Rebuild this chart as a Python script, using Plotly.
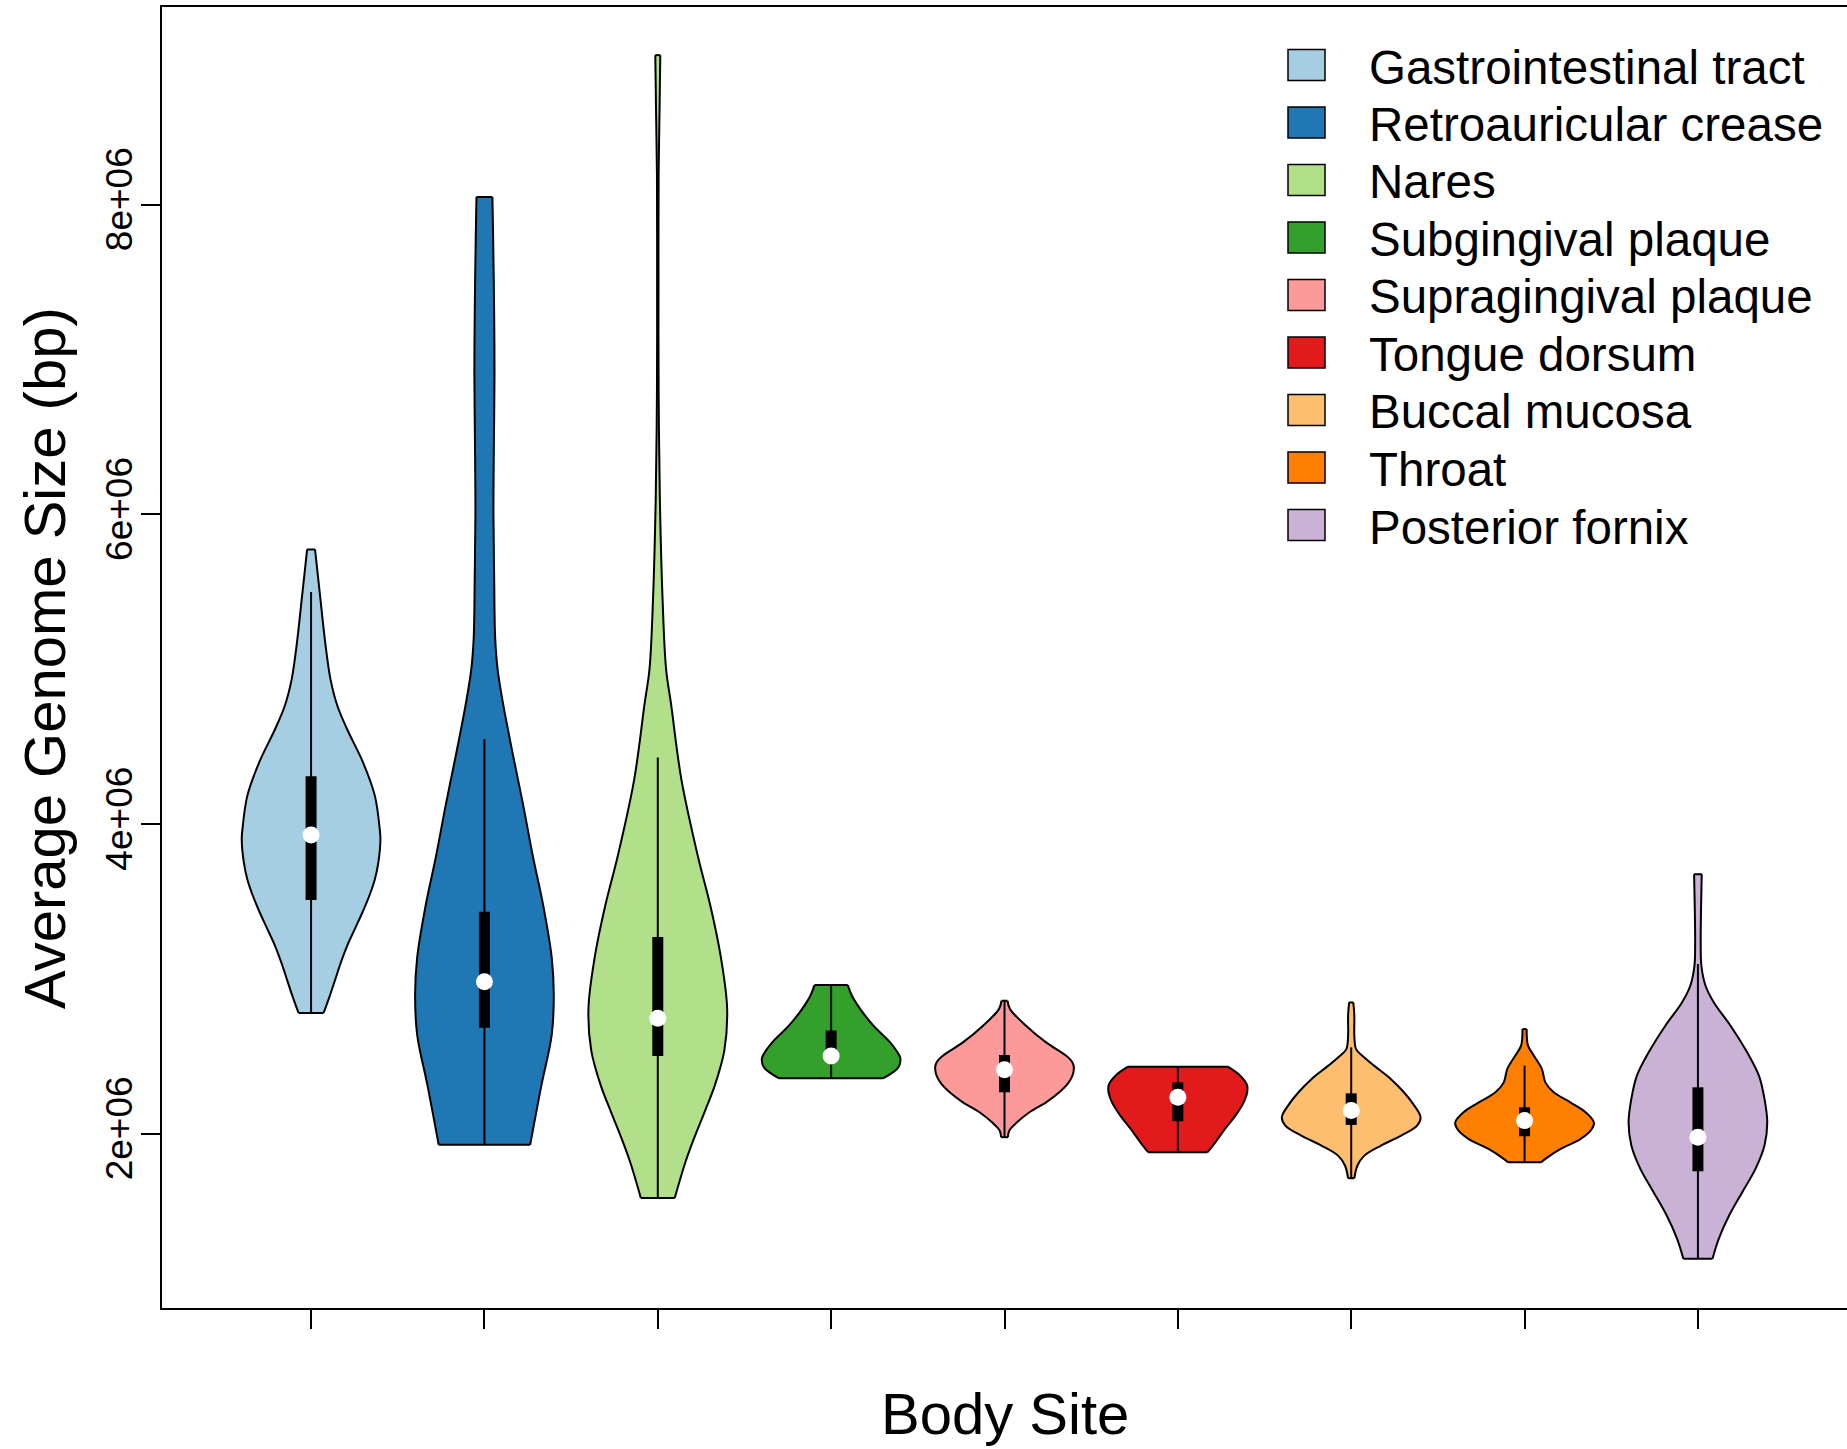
import plotly.graph_objects as go

# ---------------- data (genome size in Mbp) ----------------
sites = ["Gastrointestinal tract", "Retroauricular crease", "Nares", "Subgingival plaque",
         "Supragingival plaque", "Tongue dorsum", "Buccal mucosa", "Throat", "Posterior fornix"]
colors = ["#A6CEE3", "#1F78B4", "#B2DF8A", "#33A02C", "#FB9A99",
          "#E31A1C", "#FDBF6F", "#FF7F00", "#CAB2D6"]

# density outline of each violin: levels (Mbp) and relative half-width (1 = widest)
gastro_y = [2.781, 2.892, 3.0, 3.108, 3.215, 3.323, 3.43, 3.538, 3.645, 3.753, 3.903, 3.968,
            4.183, 4.398, 4.613, 4.763, 4.935, 5.150, 5.473, 5.774]
gastro_w = [0.18, 0.27, 0.35, 0.43, 0.52, 0.63, 0.74, 0.84, 0.92, 0.97, 1.0, 0.99,
            0.92, 0.75, 0.52, 0.38, 0.28, 0.21, 0.13, 0.057]

retro_y = [1.93, 2.31, 2.64, 2.90, 3.14, 3.47, 3.79, 4.12, 4.45, 4.80, 5.0, 5.2,
           5.6, 6.0, 6.4, 6.9, 7.3, 7.8, 8.05]
retro_w = [0.66, 0.82, 0.97, 1.0, 0.97, 0.85, 0.70, 0.56, 0.41, 0.26, 0.19, 0.155,
           0.14, 0.13, 0.135, 0.145, 0.14, 0.125, 0.115]

nares_y = [1.587, 1.82, 1.98, 2.148, 2.31, 2.54, 2.81, 3.14, 3.47, 3.79, 4.29, 4.78,
           5.0, 5.44, 6.1, 6.8, 7.5, 8.2, 8.6, 8.966]
nares_w = [0.245, 0.40, 0.53, 0.68, 0.82, 0.96, 1.0, 0.91, 0.76, 0.58, 0.34, 0.19,
           0.12, 0.07, 0.03, 0.012, 0.01, 0.012, 0.025, 0.036]

subg_y = [2.359, 2.430, 2.484, 2.505, 2.591, 2.699, 2.806, 2.892, 2.961]
subg_w = [0.75, 0.97, 1.0, 0.985, 0.85, 0.61, 0.42, 0.30, 0.24]

supra_y = [1.979, 2.022, 2.075, 2.140, 2.204, 2.269, 2.323, 2.376, 2.430, 2.462,
           2.505, 2.591, 2.699, 2.806, 2.860]
supra_w = [0.05, 0.07, 0.18, 0.36, 0.60, 0.79, 0.91, 0.98, 1.0, 0.98,
           0.89, 0.60, 0.31, 0.08, 0.043]

tongue_y = [1.882, 1.946, 2.032, 2.118, 2.204, 2.269, 2.312, 2.376, 2.434]
tongue_w = [0.43, 0.54, 0.68, 0.83, 0.95, 1.0, 1.0, 0.90, 0.72]

buccal_y = [1.714, 1.796, 1.860, 1.925, 1.989, 2.054, 2.108, 2.183, 2.269, 2.355,
            2.441, 2.505, 2.548, 2.634, 2.763, 2.849]
buccal_w = [0.045, 0.09, 0.19, 0.43, 0.72, 0.95, 1.0, 0.91, 0.76, 0.57,
            0.33, 0.16, 0.07, 0.045, 0.045, 0.03]

throat_y = [1.817, 1.839, 1.903, 1.968, 2.032, 2.075, 2.140, 2.204, 2.269, 2.333,
            2.419, 2.505, 2.570, 2.677]
throat_w = [0.24, 0.30, 0.52, 0.81, 0.97, 1.0, 0.88, 0.66, 0.42, 0.30,
            0.25, 0.135, 0.05, 0.03]

fornix_y = [1.194, 1.323, 1.473, 1.624, 1.774, 1.925, 2.075, 2.226, 2.376, 2.527,
            2.699, 2.849, 2.957, 3.086, 3.237, 3.452, 3.677]
fornix_w = [0.21, 0.30, 0.45, 0.64, 0.83, 0.96, 1.0, 0.96, 0.88, 0.71,
            0.47, 0.23, 0.11, 0.05, 0.04, 0.045, 0.055]

# box-plot statistics (Mbp)
whisker_lo = [2.781, 1.93, 1.587, 2.359, 1.979, 1.882, 1.714, 1.817, 1.194]
q1 = [3.51, 2.686, 2.503, 2.47, 2.269, 2.082, 2.058, 1.985, 1.759]
median = [3.93, 2.983, 2.747, 2.503, 2.415, 2.237, 2.151, 2.086, 1.978]
q3 = [4.31, 3.435, 3.272, 2.668, 2.510, 2.333, 2.262, 2.172, 2.301]
whisker_hi = [5.50, 4.55, 4.43, 2.961, 2.860, 2.434, 2.559, 2.441, 3.097]

ytick_vals = [2e6, 4e6, 6e6, 8e6]
ytick_text = ["2e+06", "4e+06", "6e+06", "8e+06"]

profiles_y = [gastro_y, retro_y, nares_y, subg_y, supra_y, tongue_y, buccal_y, throat_y, fornix_y]
profiles_w = [gastro_w, retro_w, nares_w, subg_w, supra_w, tongue_w, buccal_w, throat_w, fornix_w]

# ---------------- figure ----------------
W, H = 1847, 1449
ML, MR, MT, MB = 162, 0, 7, 141
PW, PH = W - ML - MR, H - MT - MB
FONT = "Liberation Sans, Arial, sans-serif"
HALF = 0.4
M = 1e6

fig = go.Figure()
for i, site in enumerate(sites):
    pos = i + 1
    ys = [v * M for v in profiles_y[i]]
    ws = profiles_w[i]
    # left outline
    fig.add_trace(go.Scatter(x=[pos - HALF * w for w in ws], y=ys, mode="lines",
                             line=dict(color="black", width=2, shape="spline", smoothing=1),
                             showlegend=False, hoverinfo="skip"))
    # right outline, filled to left outline
    fig.add_trace(go.Scatter(x=[pos + HALF * w for w in ws], y=ys, mode="lines",
                             line=dict(color="black", width=2, shape="spline", smoothing=1),
                             fill="tonextx", fillcolor=colors[i],
                             showlegend=False, hoverinfo="skip"))
    # flat ends
    fig.add_trace(go.Scatter(
        x=[pos - HALF * ws[0], pos + HALF * ws[0], None, pos - HALF * ws[-1], pos + HALF * ws[-1]],
        y=[ys[0], ys[0], None, ys[-1], ys[-1]], mode="lines",
        line=dict(color="black", width=2), showlegend=False, hoverinfo="skip"))
    # whisker
    fig.add_trace(go.Scatter(x=[pos, pos], y=[whisker_lo[i] * M, whisker_hi[i] * M], mode="lines",
                             line=dict(color="black", width=2), showlegend=False, hoverinfo="skip"))
    # box
    fig.add_trace(go.Scatter(x=[pos, pos], y=[q1[i] * M, q3[i] * M], mode="lines",
                             line=dict(color="black", width=11), showlegend=False, hoverinfo="skip"))
    # median
    fig.add_trace(go.Scatter(x=[pos], y=[median[i] * M], mode="markers",
                             marker=dict(color="white", size=17, line=dict(width=0)),
                             showlegend=False, hoverinfo="skip"))


def px_x(p):
    return (p - ML) / PW


def px_y(p):
    return (H - MB - p) / PH


shapes = []
annotations = []
# legend (drawn manually: square swatches like base R legend)
for k, site in enumerate(sites):
    cy = 65 + 57.5 * k
    shapes.append(dict(type="rect", xref="paper", yref="paper",
                       x0=px_x(1288), x1=px_x(1325), y0=px_y(cy + 15.5), y1=px_y(cy - 15.5),
                       fillcolor=colors[k], line=dict(color="black", width=1.5)))
    annotations.append(dict(text=site, xref="paper", yref="paper", x=px_x(1367), y=px_y(cy + 2),
                            xanchor="left", yanchor="middle", showarrow=False,
                            font=dict(family=FONT, size=47.5, color="black")))

# axis titles
annotations.append(dict(text="Body Site", xref="paper", yref="paper", x=px_x(1005), y=px_y(1413),
                        xanchor="center", yanchor="middle", showarrow=False,
                        font=dict(family=FONT, size=58, color="black")))
annotations.append(dict(text="Average Genome Size (bp)", xref="paper", yref="paper",
                        x=px_x(44), y=px_y(658), xanchor="center", yanchor="middle",
                        textangle=-90, showarrow=False,
                        font=dict(family=FONT, size=58, color="black")))

fig.update_layout(
    width=W, height=H,
    margin=dict(l=ML, r=MR, t=MT, b=MB, pad=0),
    paper_bgcolor="white", plot_bgcolor="white",
    font=dict(family=FONT, color="black"),
    showlegend=False,
    shapes=shapes, annotations=annotations,
    xaxis=dict(range=[0.14, 9.86], tickvals=list(range(1, 10)), ticktext=[""] * 9,
               ticks="outside", ticklen=19, tickwidth=2, tickcolor="black",
               showline=True, linecolor="black", linewidth=2, mirror=True,
               showgrid=False, zeroline=False),
    yaxis=dict(range=[0.876e6, 9.277e6], tickvals=ytick_vals, ticktext=ytick_text,
               tickangle=-90, tickfont=dict(family=FONT, size=37, color="black"),
               ticklabelstandoff=-6,
               ticks="outside", ticklen=19, tickwidth=2, tickcolor="black",
               showline=True, linecolor="black", linewidth=2,
               showgrid=False, zeroline=False),
)

fig.write_html("out.html", config={"displayModeBar": False},
               post_script="document.body.style.margin='0';document.body.style.overflow='hidden';")
